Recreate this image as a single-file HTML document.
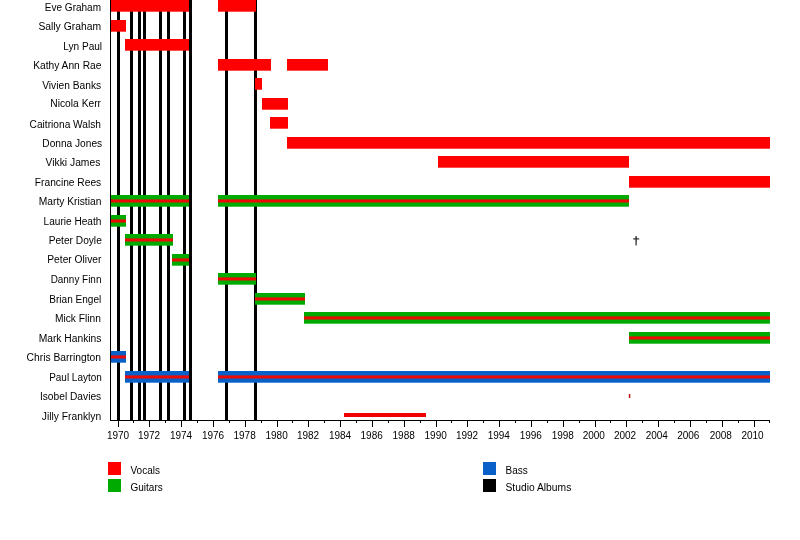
<!DOCTYPE html><html><head><meta charset="utf-8"><style>html,body{margin:0;padding:0;background:#fff;}svg{display:block;will-change:transform;}text{font-family:"Liberation Sans",sans-serif;font-size:10px;fill:#000;}</style></head><body>
<svg width="800" height="540" viewBox="0 0 800 540">
<rect x="0" y="0" width="800" height="540" fill="#fff"/>
<rect x="117" y="0" width="3" height="420" fill="#000"/>
<rect x="130" y="0" width="3" height="420" fill="#000"/>
<rect x="138" y="0" width="3" height="420" fill="#000"/>
<rect x="143" y="0" width="3" height="420" fill="#000"/>
<rect x="159" y="0" width="3" height="420" fill="#000"/>
<rect x="167" y="0" width="3" height="420" fill="#000"/>
<rect x="183" y="0" width="3" height="420" fill="#000"/>
<rect x="189" y="0" width="3" height="420" fill="#000"/>
<rect x="225" y="0" width="3" height="420" fill="#000"/>
<rect x="254" y="0" width="3" height="420" fill="#000"/>
<rect x="110" y="0" width="1" height="421" fill="#000"/>
<rect x="110" y="420" width="660" height="1" fill="#000"/>
<rect x="118" y="421" width="1" height="6" fill="#000"/>
<text x="118.00" y="439" text-anchor="middle">1970</text>
<rect x="133" y="421" width="1" height="2" fill="#000"/>
<rect x="149" y="421" width="1" height="6" fill="#000"/>
<text x="149.00" y="439" text-anchor="middle">1972</text>
<rect x="165" y="421" width="1" height="2" fill="#000"/>
<rect x="181" y="421" width="1" height="6" fill="#000"/>
<text x="181.00" y="439" text-anchor="middle">1974</text>
<rect x="197" y="421" width="1" height="2" fill="#000"/>
<rect x="213" y="421" width="1" height="6" fill="#000"/>
<text x="213.00" y="439" text-anchor="middle">1976</text>
<rect x="229" y="421" width="1" height="2" fill="#000"/>
<rect x="245" y="421" width="1" height="6" fill="#000"/>
<text x="244.60" y="439" text-anchor="middle">1978</text>
<rect x="261" y="421" width="1" height="2" fill="#000"/>
<rect x="277" y="421" width="1" height="6" fill="#000"/>
<text x="276.60" y="439" text-anchor="middle">1980</text>
<rect x="292" y="421" width="1" height="2" fill="#000"/>
<rect x="308" y="421" width="1" height="6" fill="#000"/>
<text x="308.00" y="439" text-anchor="middle">1982</text>
<rect x="324" y="421" width="1" height="2" fill="#000"/>
<rect x="340" y="421" width="1" height="6" fill="#000"/>
<text x="340.00" y="439" text-anchor="middle">1984</text>
<rect x="356" y="421" width="1" height="2" fill="#000"/>
<rect x="372" y="421" width="1" height="6" fill="#000"/>
<text x="371.70" y="439" text-anchor="middle">1986</text>
<rect x="388" y="421" width="1" height="2" fill="#000"/>
<rect x="404" y="421" width="1" height="6" fill="#000"/>
<text x="403.70" y="439" text-anchor="middle">1988</text>
<rect x="420" y="421" width="1" height="2" fill="#000"/>
<rect x="436" y="421" width="1" height="6" fill="#000"/>
<text x="435.70" y="439" text-anchor="middle">1990</text>
<rect x="451" y="421" width="1" height="2" fill="#000"/>
<rect x="467" y="421" width="1" height="6" fill="#000"/>
<text x="467.00" y="439" text-anchor="middle">1992</text>
<rect x="483" y="421" width="1" height="2" fill="#000"/>
<rect x="499" y="421" width="1" height="6" fill="#000"/>
<text x="498.80" y="439" text-anchor="middle">1994</text>
<rect x="515" y="421" width="1" height="2" fill="#000"/>
<rect x="531" y="421" width="1" height="6" fill="#000"/>
<text x="530.80" y="439" text-anchor="middle">1996</text>
<rect x="547" y="421" width="1" height="2" fill="#000"/>
<rect x="563" y="421" width="1" height="6" fill="#000"/>
<text x="562.80" y="439" text-anchor="middle">1998</text>
<rect x="579" y="421" width="1" height="2" fill="#000"/>
<rect x="595" y="421" width="1" height="6" fill="#000"/>
<text x="593.75" y="439" text-anchor="middle">2000</text>
<rect x="610" y="421" width="1" height="2" fill="#000"/>
<rect x="626" y="421" width="1" height="6" fill="#000"/>
<text x="625.00" y="439" text-anchor="middle">2002</text>
<rect x="642" y="421" width="1" height="2" fill="#000"/>
<rect x="658" y="421" width="1" height="6" fill="#000"/>
<text x="656.75" y="439" text-anchor="middle">2004</text>
<rect x="674" y="421" width="1" height="2" fill="#000"/>
<rect x="690" y="421" width="1" height="6" fill="#000"/>
<text x="688.25" y="439" text-anchor="middle">2006</text>
<rect x="706" y="421" width="1" height="2" fill="#000"/>
<rect x="722" y="421" width="1" height="6" fill="#000"/>
<text x="720.75" y="439" text-anchor="middle">2008</text>
<rect x="738" y="421" width="1" height="2" fill="#000"/>
<rect x="754" y="421" width="1" height="6" fill="#000"/>
<text x="752.50" y="439" text-anchor="middle">2010</text>
<rect x="769" y="421" width="1" height="2" fill="#000"/>
<rect x="111" y="0.00" width="78" height="11.7" fill="#ff0000"/>
<rect x="218" y="0.00" width="38" height="11.7" fill="#ff0000"/>
<rect x="111" y="20.00" width="15" height="11.7" fill="#ff0000"/>
<rect x="125" y="39.00" width="64" height="11.7" fill="#ff0000"/>
<rect x="218" y="59.00" width="53" height="11.7" fill="#ff0000"/>
<rect x="287" y="59.00" width="41" height="11.7" fill="#ff0000"/>
<rect x="255" y="78.00" width="7" height="11.7" fill="#ff0000"/>
<rect x="262" y="98.00" width="26" height="11.7" fill="#ff0000"/>
<rect x="270" y="117.00" width="18" height="11.7" fill="#ff0000"/>
<rect x="287" y="137.00" width="483" height="11.7" fill="#ff0000"/>
<rect x="438" y="156.00" width="191" height="11.7" fill="#ff0000"/>
<rect x="629" y="176.00" width="141" height="11.7" fill="#ff0000"/>
<rect x="111" y="195.00" width="78" height="11.7" fill="#00aa00"/>
<rect x="111" y="199.40" width="78" height="3.1" fill="#ee0a04"/>
<rect x="218" y="195.00" width="411" height="11.7" fill="#00aa00"/>
<rect x="218" y="199.40" width="411" height="3.1" fill="#ee0a04"/>
<rect x="111" y="215.00" width="15" height="11.7" fill="#00aa00"/>
<rect x="111" y="219.40" width="15" height="3.1" fill="#ee0a04"/>
<rect x="125" y="234.00" width="48" height="11.7" fill="#00aa00"/>
<rect x="125" y="238.40" width="48" height="3.1" fill="#ee0a04"/>
<rect x="172" y="254.00" width="17" height="11.7" fill="#00aa00"/>
<rect x="172" y="258.40" width="17" height="3.1" fill="#ee0a04"/>
<rect x="218" y="273.00" width="38" height="11.7" fill="#00aa00"/>
<rect x="218" y="277.40" width="38" height="3.1" fill="#ee0a04"/>
<rect x="255" y="293.00" width="50" height="11.7" fill="#00aa00"/>
<rect x="255" y="297.40" width="50" height="3.1" fill="#ee0a04"/>
<rect x="304" y="312.00" width="466" height="11.7" fill="#00aa00"/>
<rect x="304" y="316.40" width="466" height="3.1" fill="#ee0a04"/>
<rect x="629" y="332.00" width="141" height="11.7" fill="#00aa00"/>
<rect x="629" y="336.40" width="141" height="3.1" fill="#ee0a04"/>
<rect x="111" y="351.00" width="15" height="11.7" fill="#0860c8"/>
<rect x="111" y="355.40" width="15" height="3.1" fill="#ee0a04"/>
<rect x="125" y="371.00" width="64" height="11.7" fill="#0860c8"/>
<rect x="125" y="375.40" width="64" height="3.1" fill="#ee0a04"/>
<rect x="218" y="371.00" width="552" height="11.7" fill="#0860c8"/>
<rect x="218" y="375.40" width="552" height="3.1" fill="#ee0a04"/>
<rect x="628.8" y="394" width="1.5" height="4" fill="#c01010"/>
<rect x="344" y="413" width="82" height="4" fill="#f00000"/>
<text x="101.00" y="11" text-anchor="end" textLength="56.14" lengthAdjust="spacingAndGlyphs">Eve Graham</text>
<text x="101.00" y="30" text-anchor="end" textLength="62.60" lengthAdjust="spacingAndGlyphs">Sally Graham</text>
<text x="102.10" y="50" text-anchor="end" textLength="38.85" lengthAdjust="spacingAndGlyphs">Lyn Paul</text>
<text x="101.40" y="69" text-anchor="end" textLength="68.24" lengthAdjust="spacingAndGlyphs">Kathy Ann Rae</text>
<text x="101.20" y="89" text-anchor="end" textLength="59.03" lengthAdjust="spacingAndGlyphs">Vivien Banks</text>
<text x="101.00" y="107" text-anchor="end" textLength="50.68" lengthAdjust="spacingAndGlyphs">Nicola Kerr</text>
<text x="101.00" y="128" text-anchor="end" textLength="71.42" lengthAdjust="spacingAndGlyphs">Caitriona Walsh</text>
<text x="102.10" y="147" text-anchor="end" textLength="59.75" lengthAdjust="spacingAndGlyphs">Donna Jones</text>
<text x="100.30" y="166" text-anchor="end" textLength="54.67" lengthAdjust="spacingAndGlyphs">Vikki James</text>
<text x="101.20" y="186" text-anchor="end" textLength="66.35" lengthAdjust="spacingAndGlyphs">Francine Rees</text>
<text x="101.40" y="205" text-anchor="end" textLength="62.66" lengthAdjust="spacingAndGlyphs">Marty Kristian</text>
<text x="101.40" y="225" text-anchor="end" textLength="57.87" lengthAdjust="spacingAndGlyphs">Laurie Heath</text>
<text x="101.80" y="244" text-anchor="end" textLength="53.15" lengthAdjust="spacingAndGlyphs">Peter Doyle</text>
<text x="101.40" y="263" text-anchor="end" textLength="54.12" lengthAdjust="spacingAndGlyphs">Peter Oliver</text>
<text x="101.40" y="283" text-anchor="end" textLength="50.74" lengthAdjust="spacingAndGlyphs">Danny Finn</text>
<text x="101.20" y="303" text-anchor="end" textLength="51.90" lengthAdjust="spacingAndGlyphs">Brian Engel</text>
<text x="101.00" y="322" text-anchor="end" textLength="46.04" lengthAdjust="spacingAndGlyphs">Mick Flinn</text>
<text x="101.40" y="342" text-anchor="end" textLength="62.74" lengthAdjust="spacingAndGlyphs">Mark Hankins</text>
<text x="101.00" y="361" text-anchor="end" textLength="74.38" lengthAdjust="spacingAndGlyphs">Chris Barrington</text>
<text x="101.80" y="381" text-anchor="end" textLength="52.63" lengthAdjust="spacingAndGlyphs">Paul Layton</text>
<text x="101.20" y="400" text-anchor="end" textLength="61.25" lengthAdjust="spacingAndGlyphs">Isobel Davies</text>
<text x="101.20" y="420" text-anchor="end" textLength="59.39" lengthAdjust="spacingAndGlyphs">Jilly Franklyn</text>
<path d="M635.3 236.2h1.6l-0.2 9.4h-1.2z M633.2 238.2h6v1.3h-6z" fill="#333"/>
<rect x="108" y="462" width="13" height="13" fill="#ff0000"/>
<rect x="108" y="479" width="13" height="13" fill="#00aa00"/>
<rect x="483" y="462" width="13" height="13" fill="#0860c8"/>
<rect x="483" y="479" width="13" height="13" fill="#000"/>
<text x="130.5" y="474">Vocals</text>
<text x="130.5" y="491">Guitars</text>
<text x="505.5" y="474">Bass</text>
<text x="505.5" y="491" textLength="65.8" lengthAdjust="spacingAndGlyphs">Studio Albums</text>
</svg></body></html>
